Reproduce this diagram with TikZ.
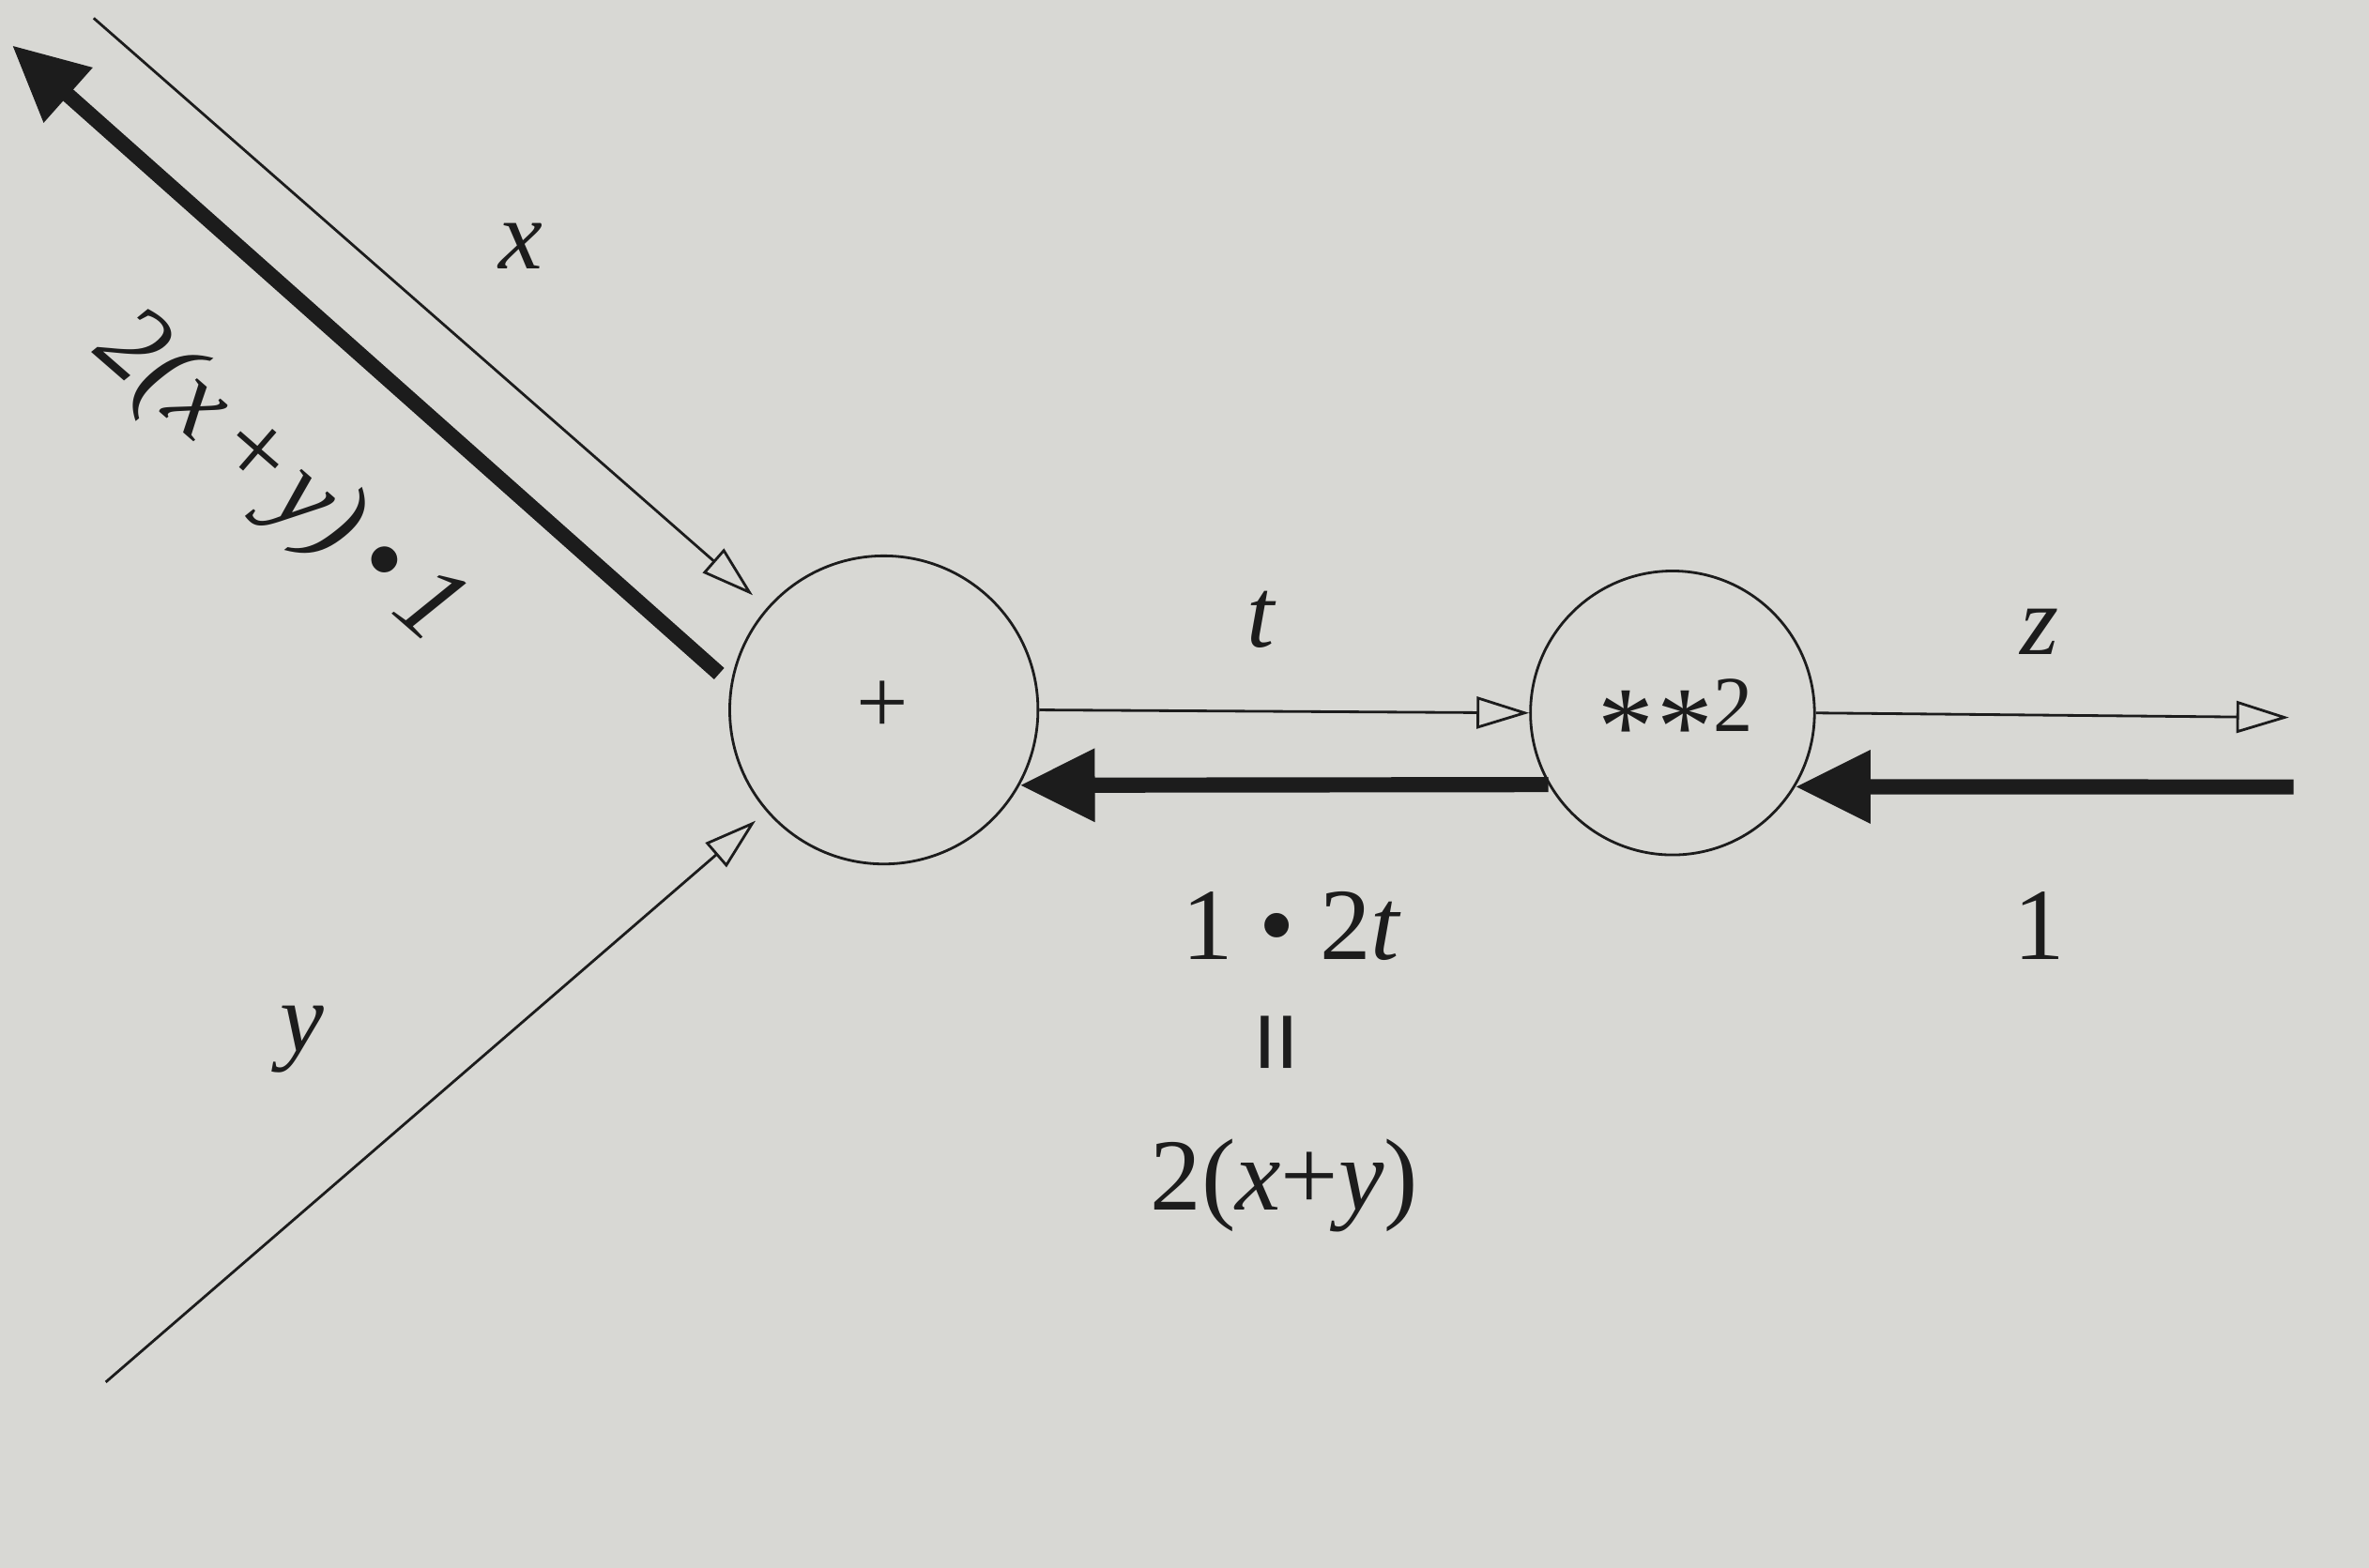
\documentclass[tikz,border=0pt]{standalone}
\usepackage{fontspec}
\setmainfont{Liberation Serif}
\usetikzlibrary{arrows.meta}
\definecolor{paper}{RGB}{216,216,212}
\definecolor{ink}{RGB}{28,28,28}
\newcommand{\lblfont}{\fontsize{30}{36}\selectfont}
\newcommand{\numfont}{\fontsize{31}{37}\selectfont}
\newcommand{\bigast}{\raisebox{-10pt}{\fontsize{34}{40}\selectfont *}}
\begin{document}
\begin{tikzpicture}[x=0.016097cm,y=-0.016097cm,
  opnode/.style={circle,draw=ink,line width=0.8pt,inner sep=0pt},
  fwd/.style={draw=ink,line width=0.8pt,-{Triangle[open,length=0.56cm,width=0.34cm,line width=0.8pt]}},
  bwd/.style={draw=ink,line width=4.6pt,-{Triangle[length=0.8cm,width=0.74cm]}},
  lab/.style={text=ink,inner sep=0pt,font=\lblfont},
  numlab/.style={text=ink,inner sep=0pt,font=\numfont}]
\fill[paper] (0,0) rectangle (1568,1038);
\useasboundingbox (0,0) rectangle (1568,1038);
% operation nodes
\node[opnode,minimum size=3.284cm] (plus) at (585,470) {};
\node[opnode,minimum size=3.026cm] (sq) at (1107,472) {};
\node[text=ink,inner sep=0pt,font=\fontsize{28}{32}\selectfont] (plustext) at (584,468) {+};
\node[text=ink,inner sep=0pt,font=\fontsize{24}{28}\selectfont] (sqtext) at (1109,478) {\bigast\kern1pt\bigast 2};
% free ends
\coordinate (xs) at (62,12);
\coordinate (xbs) at (476,446);
\coordinate (xbe) at (8,30);
\coordinate (ys) at (70,915);
\coordinate (ze) at (1515,475);
\coordinate (rs) at (1518,521);
% forward connectors
\draw[fwd,shorten >=0.2cm] (xs) -- (plus);
\draw[fwd,shorten >=0.15cm] (ys) -- (plus);
\draw[fwd] (plus.east) -- (sq.west);
\draw[fwd] (sq.east) -- (ze);
% backward connectors
\draw[bwd] (xbs) -- (xbe);
\draw[bwd] (sq.210.7) -- (plus.-29.4);
\draw[bwd] (rs) -- (sq.-31.4);
% labels
\node[lab] (lx) at (345,163) {\textit{x}};
\node[lab,rotate=-41,font=\fontsize{33}{38}\selectfont] (lback) at (184,318) {\textit{2(x\kern4pt+\kern2pt y)\kern6pt•\kern6pt1}};
\node[lab] (lt) at (835,410) {\textit{t}};
\node[lab] (lz) at (1350,418) {\textit{z}};
\node[numlab] (lone) at (1350,613) {1};
\node[lab] (ly) at (200,688) {\textit{y}};
\node[numlab] (lprod) at (855,613) {1 • 2\textit{t}};
\node[numlab] (leq) at (852,690) {\rotatebox{90}{\fontsize{34}{40}\selectfont\textbf{=}}};
\node[numlab] (lres) at (850,785) {2(\textit{x}+\textit{y})};
\end{tikzpicture}
\end{document}
